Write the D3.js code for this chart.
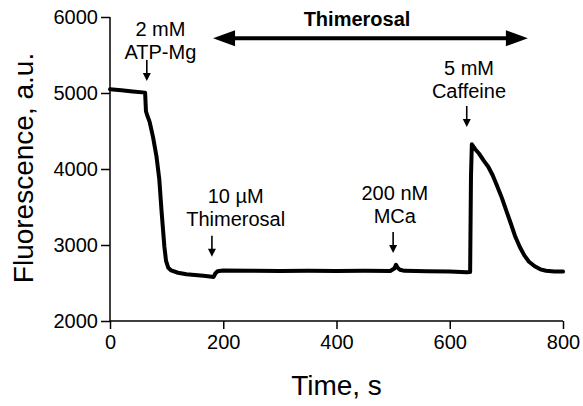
<!DOCTYPE html>
<html>
<head>
<meta charset="utf-8">
<script src="https://cdn.jsdelivr.net/npm/d3@7"></script>
<style>
  html, body { margin: 0; padding: 0; background: #fff; }
  svg { display: block; font-family: "Liberation Sans", Arial, sans-serif; }
</style>
</head>
<body>
<svg id="chart" width="583" height="406"></svg>
<script>
// ---- data ----
const timeS = [0, 20, 40, 62, 63.5, 66, 70, 76, 82, 87, 91, 96, 99, 103, 108, 120, 135, 150, 165, 180, 183, 186, 190, 200, 250, 300, 350, 400, 450, 495, 502, 505, 508, 512, 520, 560, 600, 630, 636, 637.5, 639, 645, 652, 660, 668, 676, 684, 692, 700, 708, 716, 724, 732, 740, 750, 760, 770, 785, 800];
const fluor = [5050, 5035, 5020, 5005, 4760, 4700, 4620, 4420, 4170, 3870, 3450, 2980, 2790, 2700, 2665, 2635, 2615, 2605, 2595, 2582, 2580, 2625, 2655, 2665, 2660, 2658, 2660, 2658, 2660, 2658, 2690, 2740, 2700, 2675, 2660, 2655, 2650, 2642, 2645, 3900, 4325, 4260, 4200, 4110, 4030, 3915, 3770, 3620, 3450, 3280, 3105, 2970, 2860, 2780, 2720, 2680, 2662, 2652, 2650];
const xTicks = [0, 200, 400, 600, 800];
const yTicks = [2000, 3000, 4000, 5000, 6000];
const annTime = [65, 180, 500, 630];
const annTipValue = [5158, 2846, 2895, 4553];
const annLine1 = ["2 mM", "10 \u00B5M", "200 nM", "5 mM"];
const annLine2 = ["ATP-Mg", "Thimerosal", "MCa", "Caffeine"];
const annTextTime = [89, 222, 503, 634];
const annGap = [1, 10, 9, 8];
const barStart = 182, barEnd = 738, barValue = 5720;
const barLabel = "Thimerosal";

// ---- layout ----
const svg = d3.select("#chart");
const x = d3.scaleLinear().domain([0, 800]).range([110, 563]);
const y = d3.scaleLinear().domain([2000, 6000]).range([321, 17]);

// axes
const xAxis = svg.append("g").attr("transform", "translate(0,321)")
  .call(d3.axisBottom(x).tickValues(xTicks).tickFormat(d3.format("d")).tickSize(8).tickPadding(6).tickSizeOuter(0));
const yAxis = svg.append("g").attr("transform", "translate(110,0)")
  .call(d3.axisLeft(y).tickValues(yTicks).tickFormat(d3.format("d")).tickSize(9).tickPadding(3).tickSizeOuter(0));
[xAxis, yAxis].forEach(g => {
  g.select(".domain").attr("stroke", "#000").attr("stroke-width", 1.5);
  g.selectAll(".tick line").attr("stroke", "#000").attr("stroke-width", 1.5);
  g.selectAll(".tick text").attr("fill", "#000").style("font-size", "20px")
    .style("font-family", "'Liberation Sans', Arial, sans-serif");
});
xAxis.select(".domain").attr("d", `M${x(0)},0H${x(800)}`);
yAxis.select(".domain").attr("d", `M0,${y(2000)}V${y(6000)}`);

// axis titles
svg.append("text").attr("x", 336.5).attr("y", 395).attr("text-anchor", "middle")
  .style("font-size", "28px").text("Time, s");
svg.append("text").attr("transform", "translate(33,168) rotate(-90)").attr("text-anchor", "middle")
  .style("font-size", "28px").text("Fluorescence, a.u.");

// trace
const pts = timeS.map((t, i) => [t, fluor[i]]);
svg.append("path").datum(pts)
  .attr("fill", "none").attr("stroke", "#000").attr("stroke-width", 4)
  .attr("stroke-linejoin", "round").attr("stroke-linecap", "round")
  .attr("d", d3.line().x(d => x(d[0])).y(d => y(d[1])));

// annotations
annTime.forEach((t, i) => {
  const ax = x(t), tip = y(annTipValue[i]), top = tip - 21;
  svg.append("line").attr("x1", ax).attr("x2", ax).attr("y1", top).attr("y2", tip - 6)
    .attr("stroke", "#000").attr("stroke-width", 1.6);
  svg.append("path").attr("d", `M${ax - 4},${tip - 8}L${ax + 4},${tip - 8}L${ax},${tip}Z`).attr("fill", "#000");
  const tx = x(annTextTime[i]), base = top - annGap[i];
  svg.append("text").attr("x", tx).attr("y", base - 23).attr("text-anchor", "middle")
    .style("font-size", "20px").text(annLine1[i]);
  svg.append("text").attr("x", tx).attr("y", base).attr("text-anchor", "middle")
    .style("font-size", "20px").text(annLine2[i]);
});

// thimerosal double arrow
const bx1 = x(barStart), bx2 = x(barEnd), by = y(barValue);
svg.append("line").attr("x1", bx1 + 18).attr("x2", bx2 - 18).attr("y1", by).attr("y2", by)
  .attr("stroke", "#000").attr("stroke-width", 4);
svg.append("path").attr("d", `M${bx1},${by}L${bx1 + 22},${by - 8}L${bx1 + 22},${by + 8}Z`).attr("fill", "#000");
svg.append("path").attr("d", `M${bx2},${by}L${bx2 - 22},${by - 8}L${bx2 - 22},${by + 8}Z`).attr("fill", "#000");
svg.append("text").attr("x", 357).attr("y", 26).attr("text-anchor", "middle")
  .style("font-size", "20px").style("font-weight", "bold").text(barLabel);
</script>
</body>
</html>
